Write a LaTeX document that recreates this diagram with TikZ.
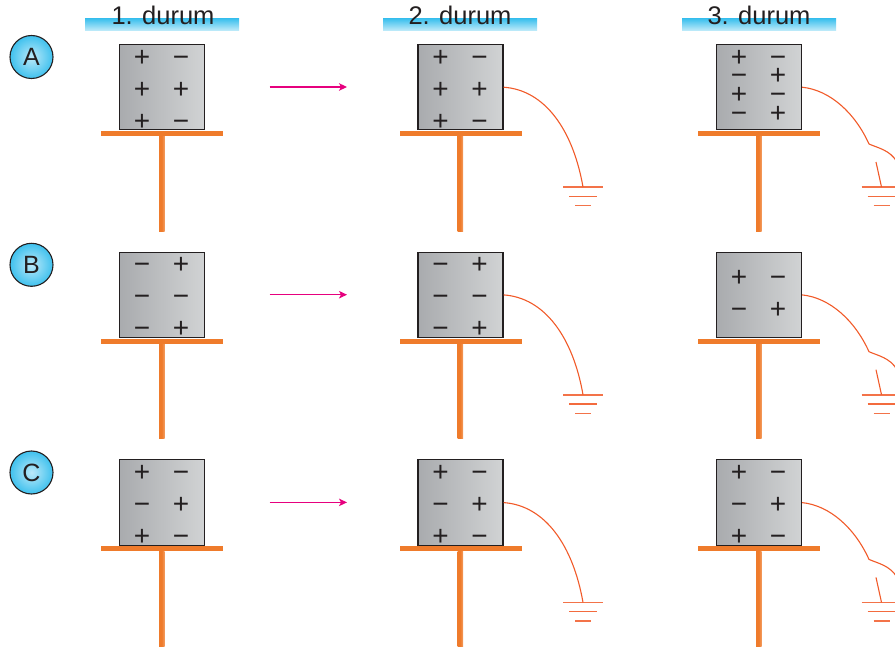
\documentclass[tikz,border=0pt]{standalone}
\usepackage{fontspec}
\setmainfont{Liberation Sans}
\usetikzlibrary{arrows.meta}
\definecolor{wirec}{HTML}{F15A29}
\definecolor{platec}{HTML}{EF7B2B}
\definecolor{inkc}{HTML}{231F20}
\definecolor{pinkc}{HTML}{E6007E}
\definecolor{skyc}{HTML}{3FC1EE}
\definecolor{greyl}{HTML}{A9ABAE}
\definecolor{greyr}{HTML}{D1D3D4}
\newcount\sgc
\newcommand{\sg}[3]{\global\advance\sgc by 1
  \node[signmark,name=sg\the\sgc] at (#1,#2) {#3};}
\newcommand{\pl}{+}
\newcommand{\mi}{−}
% #1 name, #2 x shift, #3 y shift
\newcommand{\stand}[3]{%
  \begin{scope}[shift={(#2,#3)}]
    \shade[left color=platec,right color=platec!75!white,middle color=platec] (159,136) rectangle (164.5,231);
    \node[platebar] (#1plate) at (162,133.5) {};
    \node[boxc] (#1box) at (162,87.2) {};
  \end{scope}}
\newcommand{\gndlines}[4]{% name, x, y, clip right
  \coordinate (#1g) at (#2,#3);
  \draw[wirec!85,line width=1.6pt] (#2-20,#3) -- ({min(#2+20,#4)},#3);
  \draw[wirec!90,line width=1.4pt] (#2-14,#3+9.3) -- ({min(#2+14,#4)},#3+9.3);
  \draw[wirec!85,line width=1.4pt] (#2-8,#3+18.6) -- (#2+8,#3+18.6);}
\tikzset{
  signmark/.style={font=\fontsize{28}{28}\selectfont,text=inkc,inner sep=0pt,anchor=base,yshift=-9.6pt},
  platebar/.style={fill=platec,minimum width=122pt,minimum height=5pt,inner sep=0pt,draw=none},
  boxc/.style={draw=inkc,line width=1.1pt,left color=greyl,right color=greyr,minimum width=85pt,minimum height=85.5pt,inner sep=0pt},
  headbar/.style={minimum width=154pt,minimum height=12pt,inner sep=0pt,top color=skyc,bottom color=skyc!30},
  headtext/.style={font=\fontsize{25.5}{26}\selectfont,text=inkc,inner sep=0pt,anchor=base},
  letterc/.style={circle,draw=inkc,line width=1.1pt,minimum size=43pt,inner sep=0pt,inner color=skyc!35,outer color=skyc,font=\fontsize{25}{26}\selectfont,text=inkc},
  wirel/.style={wirec,line width=1.1pt},
  movearrow/.style={pinkc,line width=1.1pt,-{Stealth[length=8pt,width=7.5pt,inset=2pt]}}
}
\begin{document}
\begin{tikzpicture}[x=1pt,y=-1pt]
\useasboundingbox (0,0) rectangle (895,650);
\clip (0,0) rectangle (895,650);
% headers
\node[headbar] (h1) at (162,25) {};
\node[headbar] (h2) at (460,25) {};
\node[headbar] (h3) at (759,25) {};
\node[headtext] (t1) at (163,25) {1. durum};
\node[headtext] (t2) at (460,25) {2. durum};
\node[headtext] (t3) at (759,25) {3. durum};
% letters
\node[letterc] (la) at (31.5,57) {A};
\node[letterc] (lb) at (31.5,264.8) {B};
\node[letterc] (lc) at (31.5,472.5) {C};
% stands
\foreach \r/\dy in {A/0,B/207.7,C/415.4}{
  \stand{\r1}{0}{\dy}
  \stand{\r2}{298.5}{\dy}
  \stand{\r3}{597}{\dy}
  \coordinate (\r a) at (269.5,87+\dy);
  \coordinate (\r b) at (347,87+\dy);
  \draw[movearrow] (\r a) -- (\r b);
  % 2nd state ground
  \gndlines{\r2}{583}{187+\dy}{999}
  \draw[wirel] (\r2box.east) .. controls (545,90+\dy) and (573,130+\dy) .. (\r2g);
  % 3rd state ground, cut off by the page edge
  \gndlines{\r3}{881.5}{187+\dy}{895}
  \coordinate (\r3k) at (869,144+\dy);
  \coordinate (\r3e) at (897,162+\dy);
  \coordinate (\r3s) at (876,162+\dy);
  \draw[wirel] (\r3box.east) .. controls (830,90+\dy) and (855,113+\dy) .. (\r3k)
     .. controls (878,148+\dy) and (890,150+\dy) .. (\r3e);
  \draw[wirel] (\r3s) -- (\r3g);
}
% row A
\foreach \xs in {0,298.5}{
  \sg{142+\xs}{57}{\pl}\sg{181+\xs}{57}{\mi}
  \sg{142+\xs}{89}{\pl}\sg{181+\xs}{89}{\pl}
  \sg{142+\xs}{121}{\pl}\sg{181+\xs}{121}{\mi}
}
\sg{739}{57}{\pl}\sg{778}{57}{\mi}
\sg{739}{75}{\mi}\sg{778}{75}{\pl}
\sg{739}{94}{\pl}\sg{778}{94}{\mi}
\sg{739}{113}{\mi}\sg{778}{113}{\pl}
% row B
\foreach \xs in {0,298.5}{
  \sg{142+\xs}{264}{\mi}\sg{181+\xs}{264}{\pl}
  \sg{142+\xs}{296}{\mi}\sg{181+\xs}{296}{\mi}
  \sg{142+\xs}{328}{\mi}\sg{181+\xs}{328}{\pl}
}
\sg{739}{277}{\pl}\sg{778}{277}{\mi}
\sg{739}{309}{\mi}\sg{778}{309}{\pl}
% row C
\foreach \xs in {0,298.5,597}{
  \sg{142+\xs}{472}{\pl}\sg{181+\xs}{472}{\mi}
  \sg{142+\xs}{504}{\mi}\sg{181+\xs}{504}{\pl}
  \sg{142+\xs}{536}{\pl}\sg{181+\xs}{536}{\mi}
}
\end{tikzpicture}
\end{document}
